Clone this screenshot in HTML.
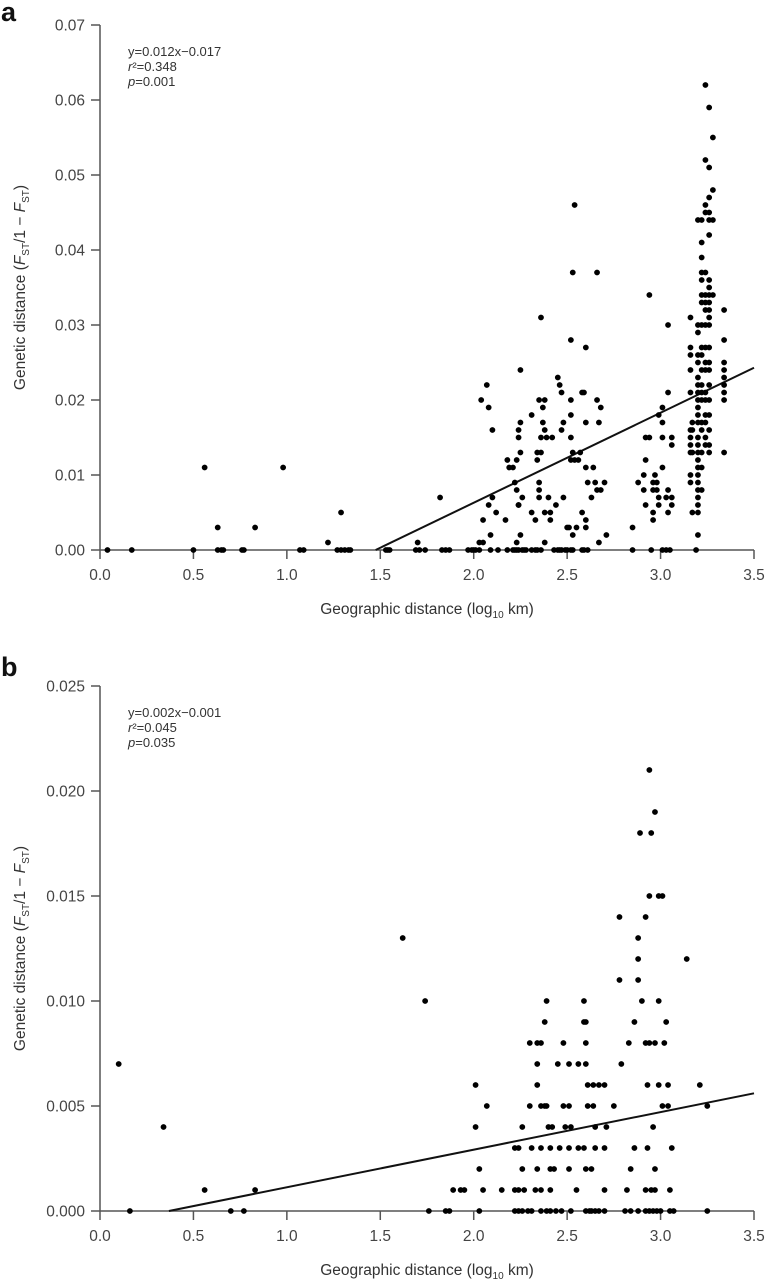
<!DOCTYPE html>
<html><head><meta charset="utf-8">
<style>
html,body{margin:0;padding:0;background:#fff;}
svg{display:block;font-family:"Liberation Sans",Arial,sans-serif;}
.tick{font-size:15.5px;fill:#444;}
.ann{font-size:13px;fill:#333;}
.ttl{font-size:15.5px;fill:#333;}
</style></head>
<body>
<svg id="fig" width="768" height="1281" viewBox="0 0 768 1281" xmlns="http://www.w3.org/2000/svg"></svg>
<script>
// ---------- Panel a data ----------
const aZeroX = [0.04,0.17,0.50,0.63,0.65,0.66,0.76,0.77,1.07,1.09,1.27,1.29,1.31,1.33,1.34,1.53,1.54,1.55,1.69,1.71,1.74,1.83,1.85,1.87,1.97,1.99,2.00,2.01,2.03,2.09,2.13,2.18,2.21,2.22,2.23,2.24,2.26,2.27,2.28,2.31,2.33,2.34,2.36,2.43,2.45,2.46,2.47,2.49,2.50,2.52,2.53,2.58,2.59,2.61,2.85,2.95,3.01,3.03,3.05,3.19];
const aX = [0.56,0.98,0.63,0.83,1.29,1.22,1.70,1.82,
2.04,2.07,2.08,2.10,2.05,2.03,2.05,2.08,2.10,2.09,2.12,2.17,2.18,2.19,2.21,2.23,2.22,2.23,2.23,2.24,2.24,2.24,2.25,2.25,2.25,2.24,2.25,2.26,
2.31,2.31,2.33,2.34,2.34,2.35,2.35,2.35,2.36,2.36,2.36,2.35,2.37,2.38,2.37,2.38,2.38,2.38,2.39,2.40,2.41,2.41,2.42,2.44,2.45,2.46,2.47,2.47,2.48,2.48,2.50,2.51,
2.52,2.52,2.52,2.52,2.53,2.54,2.52,2.53,2.54,2.56,2.53,2.55,2.57,2.58,2.59,2.60,2.60,2.58,2.60,2.60,2.60,2.61,2.63,2.64,2.65,2.66,2.66,2.67,2.66,2.68,2.67,2.68,2.70,2.71,
2.85,2.88,2.91,2.91,2.92,2.92,2.92,2.94,2.94,2.96,2.96,2.96,2.96,2.97,2.98,2.98,2.99,2.99,2.99,3.01,3.01,3.01,3.01,3.03,3.04,3.04,3.04,3.04,3.06,3.06,3.06,3.06,
3.16,3.16,3.16,3.16,3.16,3.16,3.16,3.16,3.16,3.16,3.16,
3.17,3.17,3.17,3.17,
3.20,3.20,3.20,3.20,3.20,3.20,3.20,3.20,3.20,3.20,3.20,3.20,3.20,3.20,3.20,3.20,3.20,3.20,3.20,3.20,3.20,3.20,3.20,3.20,
3.22,3.22,3.22,3.22,3.22,3.22,3.22,3.22,3.22,3.22,3.22,3.22,3.22,3.22,3.22,3.22,3.22,3.22,3.22,
3.24,3.24,3.24,3.24,3.24,3.24,3.24,3.24,3.24,3.24,3.24,3.24,3.24,3.24,3.24,3.24,3.24,3.24,
3.26,3.26,3.26,3.26,3.26,3.26,3.26,3.26,3.26,3.26,3.26,3.26,3.26,3.26,3.26,3.26,3.26,3.26,3.26,3.26,3.26,3.26,
3.28,3.28,3.28,3.28,
3.34,3.34,3.34,3.34,3.34,3.34,3.34,3.34,3.34];
const aY = [0.011,0.011,0.003,0.003,0.005,0.001,0.001,0.007,
0.020,0.022,0.019,0.016,0.004,0.001,0.001,0.006,0.007,0.002,0.005,0.004,0.012,0.011,0.011,0.012,0.009,0.008,0.001,0.015,0.016,0.006,0.013,0.024,0.017,0.006,0.002,0.007,
0.018,0.005,0.004,0.012,0.013,0.009,0.008,0.007,0.031,0.015,0.013,0.020,0.017,0.020,0.019,0.016,0.005,0.001,0.015,0.007,0.005,0.004,0.015,0.006,0.023,0.022,0.021,0.016,0.017,0.007,0.003,0.003,
0.018,0.020,0.015,0.028,0.037,0.046,0.012,0.013,0.012,0.012,0.002,0.003,0.013,0.021,0.021,0.027,0.017,0.005,0.004,0.003,0.011,0.009,0.007,0.011,0.009,0.037,0.020,0.017,0.008,0.019,0.001,0.008,0.009,0.002,
0.003,0.009,0.010,0.008,0.012,0.006,0.015,0.015,0.034,0.009,0.008,0.005,0.004,0.010,0.009,0.008,0.007,0.018,0.006,0.017,0.019,0.011,0.015,0.007,0.030,0.021,0.008,0.005,0.007,0.006,0.015,0.014,
0.031,0.027,0.026,0.024,0.021,0.016,0.015,0.014,0.013,0.009,0.010,
0.013,0.016,0.017,0.005,
0.044,0.030,0.029,0.026,0.025,0.023,0.022,0.021,0.020,0.019,0.018,0.017,0.015,0.014,0.013,0.012,0.011,0.010,0.009,0.008,0.007,0.006,0.005,0.002,
0.044,0.041,0.039,0.037,0.036,0.034,0.033,0.030,0.027,0.026,0.024,0.022,0.021,0.020,0.017,0.016,0.013,0.011,0.008,
0.046,0.052,0.062,0.045,0.037,0.034,0.033,0.032,0.030,0.027,0.025,0.024,0.021,0.020,0.018,0.017,0.015,0.014,
0.059,0.051,0.047,0.045,0.044,0.042,0.036,0.035,0.034,0.033,0.032,0.031,0.030,0.027,0.025,0.024,0.022,0.020,0.018,0.016,0.014,0.013,
0.055,0.048,0.044,0.034,
0.032,0.028,0.025,0.024,0.023,0.022,0.021,0.020,0.013];
const aLine = [0.012, -0.0177]; // slope, intercept
const aXTicks = ["0.0","0.5","1.0","1.5","2.0","2.5","3.0","3.5"];
const aYTicks = ["0.00","0.01","0.02","0.03","0.04","0.05","0.06","0.07"];

// ---------- Panel b data ----------
const bX = [2.94,2.97,2.89,2.95,2.94,2.99,3.01,2.78,2.92,1.62,2.88,2.88,3.14,2.78,2.88,1.74,2.39,2.59,2.90,2.99,2.38,2.59,2.60,2.86,3.03,
2.30,2.34,2.36,2.48,2.60,2.83,2.92,2.94,2.97,3.02,
0.10,2.34,2.45,2.51,2.56,2.60,2.79,
2.01,2.34,2.61,2.64,2.67,2.70,2.93,2.99,3.04,3.21,
2.07,2.30,2.36,2.38,2.39,2.48,2.51,2.61,2.64,2.75,3.01,3.04,3.25,
0.34,2.01,2.26,2.40,2.42,2.49,2.52,2.65,2.71,2.96,
2.22,2.24,2.31,2.36,2.41,2.46,2.51,2.56,2.59,2.65,2.70,2.86,2.93,3.06,
2.03,2.26,2.34,2.41,2.43,2.51,2.60,2.63,2.84,2.97,
0.56,0.83,1.89,1.93,1.95,2.05,2.15,2.22,2.24,2.27,2.33,2.36,2.41,2.55,2.70,2.82,2.92,2.95,2.97,3.05,
0.16,0.70,0.77,1.76,1.85,1.87,2.03,2.22,2.24,2.26,2.29,2.31,2.36,2.39,2.41,2.44,2.47,2.52,2.60,2.62,2.63,2.65,2.67,2.70,2.81,2.84,2.88,2.92,2.94,2.96,2.98,3.00,3.05,3.07,3.25];
const bY = [0.021,0.019,0.018,0.018,0.015,0.015,0.015,0.014,0.014,0.013,0.013,0.012,0.012,0.011,0.011,0.010,0.010,0.010,0.010,0.010,0.009,0.009,0.009,0.009,0.009,
0.008,0.008,0.008,0.008,0.008,0.008,0.008,0.008,0.008,0.008,
0.007,0.007,0.007,0.007,0.007,0.007,0.007,
0.006,0.006,0.006,0.006,0.006,0.006,0.006,0.006,0.006,0.006,
0.005,0.005,0.005,0.005,0.005,0.005,0.005,0.005,0.005,0.005,0.005,0.005,0.005,
0.004,0.004,0.004,0.004,0.004,0.004,0.004,0.004,0.004,0.004,
0.003,0.003,0.003,0.003,0.003,0.003,0.003,0.003,0.003,0.003,0.003,0.003,0.003,0.003,
0.002,0.002,0.002,0.002,0.002,0.002,0.002,0.002,0.002,0.002,
0.001,0.001,0.001,0.001,0.001,0.001,0.001,0.001,0.001,0.001,0.001,0.001,0.001,0.001,0.001,0.001,0.001,0.001,0.001,0.001,
0,0,0,0,0,0,0,0,0,0,0,0,0,0,0,0,0,0,0,0,0,0,0,0,0,0,0,0,0,0,0,0,0,0,0];
const bLine = [0.00179, -0.00066];
const bXTicks = ["0.0","0.5","1.0","1.5","2.0","2.5","3.0","3.5"];
const bYTicks = ["0.000","0.005","0.010","0.015","0.020","0.025"];

const NS = "http://www.w3.org/2000/svg";
const svg = document.getElementById("fig");
function mk(tag, attrs, parent){
  const e = document.createElementNS(NS, tag);
  for (const k in attrs) e.setAttribute(k, attrs[k]);
  (parent||svg).appendChild(e);
  return e;
}

function panel(cfg){
  const g = mk("g", {});
  
  
  const sx = v => cfg.x0 + (v - 0) / 3.5 * (cfg.x1 - cfg.x0);
  const sy = v => cfg.y0 - v / cfg.ymax * (cfg.y0 - cfg.y1);
  const axisCol = "#555";
  const L = mk("text", {x: 1, y: cfg.letterY, "font-size": 27, "font-weight": "bold", fill: "#111"}, g);
  L.textContent = cfg.letter;
  
  
  const ya = mk("line", {x1: cfg.x0, x2: cfg.x0, y1: cfg.y1, y2: cfg.y0, stroke: axisCol, "stroke-width": 1.5}, g);
  
  
  cfg.yTicks.forEach((t, i) => {
    const v = i * cfg.ymax / (cfg.yTicks.length - 1);
    const y = sy(v);
    const tk = mk("line", {x1: cfg.x0 - 9, x2: cfg.x0, y1: y, y2: y, stroke: axisCol, "stroke-width": 1.5}, g);
    
    
    const tx = mk("text", {x: cfg.x0 - 15, y: y + 5.5, "text-anchor": "end", class: "tick"}, g);
    tx.textContent = t;
    
    
  });
  const xa = mk("line", {x1: cfg.x0, x2: cfg.x1, y1: cfg.y0, y2: cfg.y0, stroke: axisCol, "stroke-width": 1.5}, g);
  
  
  cfg.xTicks.forEach((t) => {
    const x = sx(parseFloat(t));
    const tk = mk("line", {x1: x, x2: x, y1: cfg.y0, y2: cfg.y0 + 9, stroke: axisCol, "stroke-width": 1.5}, g);
    
    
    const tx = mk("text", {x: x, y: cfg.y0 + 30, "text-anchor": "middle", class: "tick"}, g);
    tx.textContent = t;
    
    
  });
  const xt = mk("text", {x: (cfg.x0 + cfg.x1) / 2, y: cfg.y0 + 64, "text-anchor": "middle", class: "ttl"}, g);
  xt.innerHTML = 'Geographic distance (log<tspan font-size="10" dy="4">10</tspan><tspan dy="-4"> km)</tspan>';
  
  
  const cy = (cfg.y0 + cfg.y1) / 2;
  const yt = mk("text", {x: 0, y: 0, "text-anchor": "middle", class: "ttl", transform: `translate(25,${cy}) rotate(-90)`}, g);
  yt.innerHTML = 'Genetic distance (<tspan font-style="italic">F</tspan><tspan font-size="10" dy="4">ST</tspan><tspan dy="-4">/1 − </tspan><tspan font-style="italic">F</tspan><tspan font-size="10" dy="4">ST</tspan><tspan dy="-4">)</tspan>';
  
  
  cfg.ann.forEach((s, i) => {
    const a = mk("text", {x: cfg.x0 + 28, y: cfg.annY + i * 15, class: "ann"}, g);
    a.innerHTML = s;
    
    
  });
  const [m, b] = cfg.line;
  const xs = -b / m, xe = 3.5;
  const rl = mk("line", {x1: sx(xs), y1: sy(0), x2: sx(xe), y2: sy(m * xe + b), stroke: "#111", "stroke-width": 2}, g);
  
  
  cfg.px.forEach((xv, i) => {
    const c = mk("circle", {cx: sx(xv), cy: sy(cfg.py[i]), r: 2.9, fill: "#000"}, g);
    
    
  });
}

panel({name: "panel-a", letter: "a", letterY: 21, x0: 100, x1: 754, y0: 550, y1: 25, ymax: 0.07,
  xTicks: aXTicks, yTicks: aYTicks, line: aLine,
  px: aZeroX.concat(aX), py: aZeroX.map(() => 0).concat(aY),
  ann: ['y=0.012x−0.017', '<tspan font-style="italic">r</tspan>²=0.348', '<tspan font-style="italic">p</tspan>=0.001'], annY: 56});

panel({name: "panel-b", letter: "b", letterY: 676, x0: 100, x1: 754, y0: 1211, y1: 686, ymax: 0.025,
  xTicks: bXTicks, yTicks: bYTicks, line: bLine,
  px: bX, py: bY,
  ann: ['y=0.002x−0.001', '<tspan font-style="italic">r</tspan>²=0.045', '<tspan font-style="italic">p</tspan>=0.035'], annY: 717});
</script>
</body></html>
